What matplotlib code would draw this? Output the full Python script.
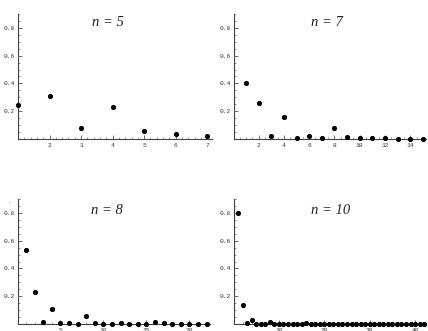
import matplotlib
matplotlib.use("Agg")
import matplotlib.pyplot as plt
from matplotlib.ticker import MultipleLocator

# values, index k = 1, 2, ...
n5_vals = [0.247, 0.307, 0.079, 0.230, 0.057, 0.038, 0.024]
n7_vals = [0.400, 0.258, 0.024, 0.160, 0.010, 0.020, 0.005, 0.082,
           0.015, 0.005, 0.004, 0.005, 0.002, 0.002, 0.002]
n8_vals = [0.535, 0.232, 0.015, 0.110, 0.004, 0.005, 0.003, 0.055,
           0.005, 0.003, 0.003, 0.004, 0.003, 0.003, 0.003, 0.015,
           0.004, 0.003, 0.003, 0.003, 0.003, 0.003]
n10_vals = [0.800, 0.140, 0.010, 0.030, 0.003, 0.003, 0.003, 0.012,
            0.002, 0.002, 0.002, 0.002, 0.002, 0.002, 0.002, 0.008,
            0.002, 0.002, 0.002, 0.002, 0.002, 0.002, 0.002, 0.002,
            0.002, 0.002, 0.002, 0.002, 0.002, 0.002, 0.002, 0.002,
            0.002, 0.002, 0.002, 0.002, 0.002, 0.002, 0.002, 0.002,
            0.002, 0.002]

titles = ["n = 5", "n = 7", "n = 8", "n = 10"]
xticks = [[2, 3, 4, 5, 6, 7], [2, 4, 6, 8, 10, 12, 14], [5, 10, 15, 20], [10, 20, 30, 40]]
yticks = [0.2, 0.4, 0.6, 0.8]

W, H = 428, 331
fig = plt.figure(figsize=(W / 100, H / 100), dpi=100)

# axes boxes in pixels: (left, top, right, bottom), x-limits, minor step, title pos
panels = [
    (n5_vals, (18, 14, 212, 139), (1.0, 7.15), 0.2, (108, 22)),
    (n7_vals, (234, 14, 426, 139), (0.05, 15.25), 0.5, (327, 22)),
    (n8_vals, (18, 199, 210, 324), (0.07, 22.4), 1, (107, 210)),
    (n10_vals, (234, 199, 426, 324), (0.1, 42.4), 2, (331, 210)),
]

for i, (vals, box, xl, minor, tpos) in enumerate(panels):
    l, t, r, b = box
    ax = fig.add_axes([l / W, 1 - b / H, (r - l) / W, (b - t) / H])
    xs = list(range(1, len(vals) + 1))
    ax.plot(xs, vals, 'o', color='black', markersize=2.7, clip_on=False, zorder=3)
    ax.set_xlim(*xl)
    ax.set_ylim(0, 0.9)
    ax.spines['top'].set_visible(False)
    ax.spines['right'].set_visible(False)
    for s in ('left', 'bottom'):
        ax.spines[s].set_linewidth(0.8)
        ax.spines[s].set_color('#444444')
    ax.set_xticks(xticks[i])
    ax.set_yticks(yticks)
    ax.set_yticklabels(["0.2", "0.4", "0.6", "0.8"])
    ax.xaxis.set_minor_locator(MultipleLocator(minor))
    ax.yaxis.set_minor_locator(MultipleLocator(0.05))
    ax.tick_params(which='major', direction='in', length=3, width=0.5,
                   labelsize=4.5, pad=2, colors='#333333')
    ax.tick_params(axis='x', which='major', pad=2.6)
    ax.tick_params(which='minor', direction='in', length=1.5, width=0.4, colors='#444444')
    for lab in ax.get_xticklabels() + ax.get_yticklabels():
        lab.set_family('Liberation Mono')
    ax.patch.set_alpha(0)
    fig.text(tpos[0] / W, 1 - tpos[1] / H, titles[i], ha='center', va='center',
             family='Liberation Serif', style='italic', fontsize=10.5, color='#222222')

fig.text(8 / W, 1 - 203 / H, ".", fontsize=5, color='#666666')

fig.savefig("out.png", dpi=100)
